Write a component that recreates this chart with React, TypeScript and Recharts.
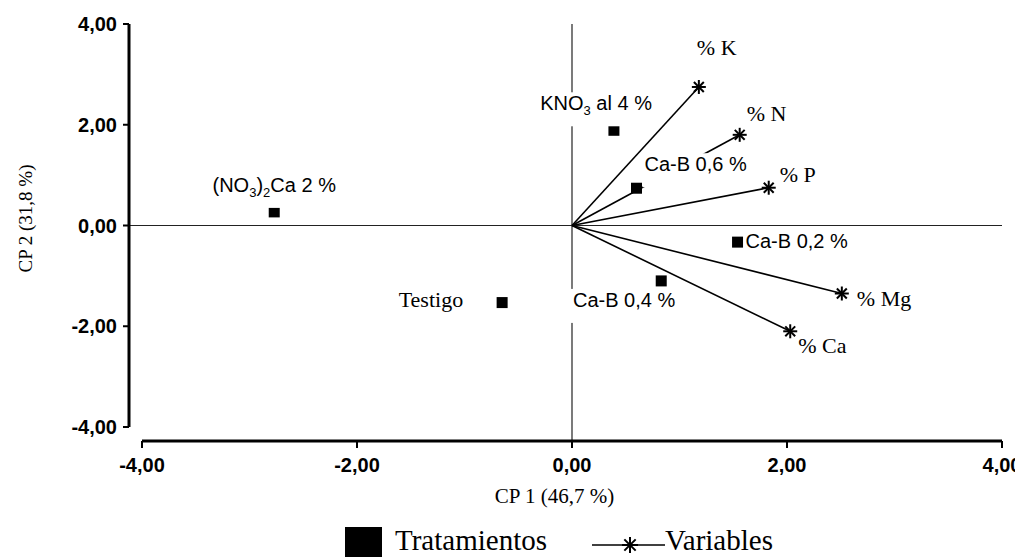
import { Legend, ReferenceLine, Scatter, ScatterChart, XAxis, YAxis } from "recharts";

// treatments (CP 1, CP 2 scores)
const treatmentNames = ["(NO3)2Ca 2 %", "KNO3 al 4 %", "Ca-B 0,6 %", "Ca-B 0,2 %", "Ca-B 0,4 %", "Testigo"];
const treatmentCp1 = [-2.77, 0.39, 0.6, 1.54, 0.83, -0.65];
const treatmentCp2 = [0.27, 1.89, 0.74, -0.33, -1.1, -1.53];

// variables (loadings)
const variableNames = ["% K", "% N", "% P", "% Mg", "% Ca"];
const variableCp1 = [1.18, 1.56, 1.83, 2.51, 2.03];
const variableCp2 = [2.75, 1.8, 0.75, -1.35, -2.1];

const axisTicks = [-4, -2, 0, 2, 4];

const treatmentData = treatmentNames.map((name, i) => ({ name, x: treatmentCp1[i], y: treatmentCp2[i] }));
const variableData = variableNames.map((name, i) => ({ name, x: variableCp1[i], y: variableCp2[i] }));

const SANS = "'Liberation Sans', Arial, sans-serif";
const SERIF = "'Liberation Serif', 'Times New Roman', serif";

type Anchor = "start" | "middle" | "end";
type Placement = { dx: number; dy: number; anchor: Anchor; serif?: boolean };

// where each label sits relative to its mark
const treatmentLabelPlacement: Record<string, Placement> = {
  "(NO3)2Ca 2 %": { dx: 0, dy: -20, anchor: "middle" },
  "KNO3 al 4 %": { dx: 38, dy: -20, anchor: "end" },
  "Ca-B 0,6 %": { dx: 8, dy: -17, anchor: "start" },
  "Ca-B 0,2 %": { dx: 8, dy: 6, anchor: "start" },
  "Ca-B 0,4 %": { dx: 14, dy: 26, anchor: "end" },
  Testigo: { dx: -39, dy: 4, anchor: "end", serif: true },
};

const variableLabelPlacement: Record<string, { dx: number; dy: number }> = {
  "% K": { dx: -2, dy: -32 },
  "% N": { dx: 7, dy: -14 },
  "% P": { dx: 11, dy: -6 },
  "% Mg": { dx: 15, dy: 12 },
  "% Ca": { dx: 8, dy: 22 },
};

const fmt = (v: number) => v.toFixed(2).replace(".", ",");

// digits right after "O" or ")" are chemical subscripts
const SUB_RE = /(?<=[O)])(\d)/;

let measureCtx: CanvasRenderingContext2D | null = null;
function measure(text: string, size: number, family: string) {
  if (!measureCtx) measureCtx = document.createElement("canvas").getContext("2d");
  if (!measureCtx) return text.length * size * 0.5;
  measureCtx.font = `${size}px ${family}`;
  return measureCtx.measureText(text).width;
}

function Asterisk({ cx, cy, r = 7 }: { cx: number; cy: number; r?: number }) {
  return (
    <g stroke="#000" strokeWidth={2}>
      {[0, 45, 90, 135].map((a) => {
        const c = Math.cos((a * Math.PI) / 180) * r;
        const s = Math.sin((a * Math.PI) / 180) * r;
        return <line key={a} x1={cx - c} y1={cy - s} x2={cx + c} y2={cy + s} />;
      })}
    </g>
  );
}

function TreatmentMark(props: any) {
  const { cx, cy, payload } = props;
  if (cx == null || cy == null) return null;
  const place = treatmentLabelPlacement[payload.name];
  const family = place.serif ? SERIF : SANS;
  const size = place.serif ? 22 : 20;
  const subSize = 13;
  const parts: string[] = payload.name.split(SUB_RE);
  const w = parts.reduce((acc, p, i) => acc + measure(p, i % 2 ? subSize : size, family), 0);
  const tx = cx + place.dx;
  const ty = cy + place.dy;
  const pad = 2;
  const left = place.anchor === "start" ? tx - pad : place.anchor === "middle" ? tx - w / 2 - pad : tx - w - pad;
  return (
    <g>
      <rect x={cx - 5.5} y={cy - 5.5} width={11} height={11} fill="#000" />
      <rect x={left} y={ty - 18} width={w + pad * 2} height={34} fill="#fff" />
      <text x={tx} y={ty} textAnchor={place.anchor} fontFamily={family} fontSize={size} fill="#000">
        {parts.map((p, i) =>
          i % 2 ? (
            <tspan key={i} dy={5} fontSize={subSize}>
              {p}
            </tspan>
          ) : (
            <tspan key={i} dy={i ? -5 : 0}>
              {p}
            </tspan>
          )
        )}
      </text>
    </g>
  );
}

function VariableMark(props: any) {
  const { cx, cy, payload } = props;
  if (cx == null || cy == null) return null;
  const place = variableLabelPlacement[payload.name];
  return (
    <g>
      <Asterisk cx={cx} cy={cy} />
      <text x={cx + place.dx} y={cy + place.dy} fontFamily={SERIF} fontSize={22} fill="#000">
        {payload.name}
      </text>
    </g>
  );
}

function LegendContent() {
  return (
    <svg width={994} height={40} style={{ display: "block" }}>
      <rect x={337} y={10} width={37} height={30} fill="#000" />
      <text x={387} y={33} fontFamily={SERIF} fontSize={30} textLength={152} lengthAdjust="spacingAndGlyphs">
        Tratamientos
      </text>
      <line x1={584} y1={28} x2={657} y2={28} stroke="#000" strokeWidth={1.5} />
      <Asterisk cx={622} cy={28} r={8} />
      <text x={657} y={33} fontFamily={SERIF} fontSize={30} textLength={108} lengthAdjust="spacingAndGlyphs">
        Variables
      </text>
    </svg>
  );
}

const tickStyle = { fontFamily: SANS, fontSize: 20, fontWeight: 700, fill: "#000" };

export default function App() {
  return (
    <ScatterChart width={1015} height={549} margin={{ top: 16, right: 21, bottom: 0, left: 0 }}>
      <XAxis
        type="number"
        dataKey="x"
        domain={[-4, 4]}
        ticks={axisTicks}
        tickFormatter={fmt}
        padding={{ left: 13, right: 0 }}
        height={76}
        axisLine={{ stroke: "#000", strokeWidth: 3, strokeDasharray: "0 13 860 40" }}
        tickLine={{ stroke: "#000", strokeWidth: 2 }}
        tickSize={7}
        tickMargin={10}
        tick={tickStyle}
        allowDataOverflow
        label={{
          content: (p: any) => {
            const vb = p.viewBox;
            return (
              <text x={vb.x + vb.width / 2 - 11} y={vb.y + 62} textAnchor="middle" fontFamily={SERIF} fontSize={21} fill="#000">
                CP 1 (46,7 %)
              </text>
            );
          },
        }}
      />
      <YAxis
        type="number"
        dataKey="y"
        domain={[-4, 4]}
        ticks={axisTicks}
        tickFormatter={fmt}
        padding={{ top: 0, bottom: 14 }}
        width={121}
        axisLine={{ stroke: "#000", strokeWidth: 3, strokeDasharray: "403 40" }}
        tickLine={{ stroke: "#000", strokeWidth: 2 }}
        tickSize={6}
        tickMargin={6}
        tick={tickStyle}
        allowDataOverflow
        label={{
          content: (p: any) => {
            const vb = p.viewBox;
            const lx = 17;
            const ly = vb.y + vb.height / 2 - 14;
            return (
              <text
                x={lx}
                y={ly}
                transform={`rotate(-90, ${lx}, ${ly})`}
                textAnchor="middle"
                dominantBaseline="central"
                fontFamily={SERIF}
                fontSize={19}
                fill="#000"
              >
                CP 2 (31,8 %)
              </text>
            );
          },
        }}
      />
      <ReferenceLine x={0} stroke="#222" strokeWidth={1.2} />
      <ReferenceLine y={0} stroke="#222" strokeWidth={1.2} />
      {variableData.map((d) => (
        <ReferenceLine
          key={d.name}
          segment={[
            { x: 0, y: 0 },
            { x: d.x, y: d.y },
          ]}
          stroke="#000"
          strokeWidth={1.6}
        />
      ))}
      <Scatter name="Variables" data={variableData} shape={VariableMark} isAnimationActive={false} />
      <Scatter name="Tratamientos" data={treatmentData} shape={TreatmentMark} isAnimationActive={false} />
      <Legend verticalAlign="bottom" height={40} content={() => <LegendContent />} wrapperStyle={{ height: 40 }} />
    </ScatterChart>
  );
}
